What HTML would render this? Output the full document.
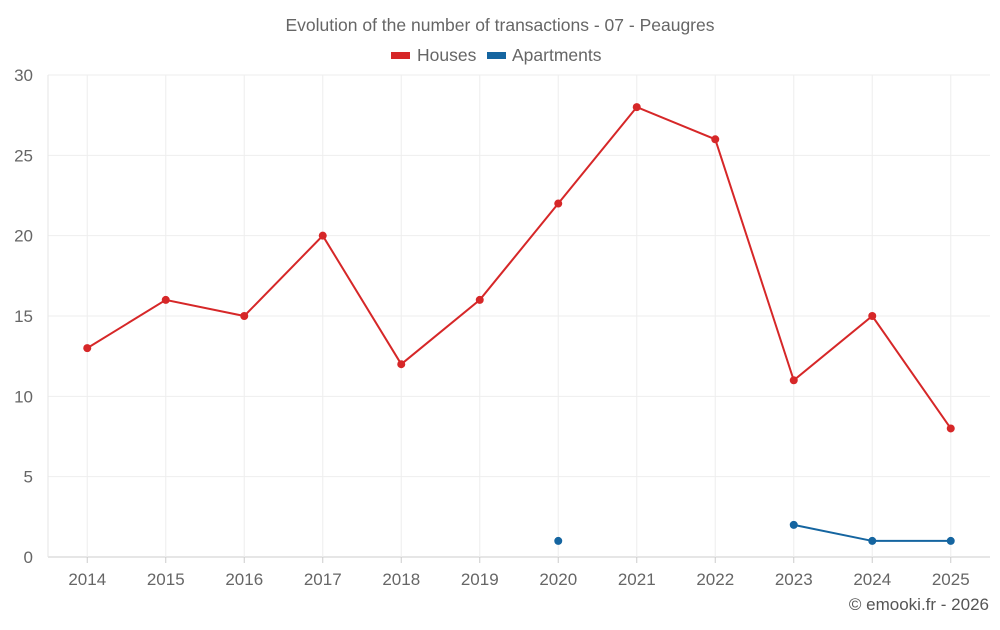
<!DOCTYPE html>
<html><head><meta charset="utf-8"><style>
body{margin:0;background:#fff;font-family:"Liberation Sans",sans-serif;}
svg text{font-family:"Liberation Sans",sans-serif;fill:#666;}
</style></head><body>
<svg id="chart" width="1000" height="625" xmlns="http://www.w3.org/2000/svg">
<text x="500" y="31" text-anchor="middle" font-size="17.5">Evolution of the number of transactions - 07 - Peaugres</text>
<g>
<g><rect x="391" y="52" width="19" height="7" fill="#d62728"/><text x="417" y="61" font-size="17.5">Houses</text></g>
<g><rect x="487" y="52" width="19" height="7" fill="#1565a0"/><text x="512" y="61" font-size="17.5">Apartments</text></g>
</g>
<g id="grid"></g><g id="axes"></g><g id="series"></g>
<text x="989" y="610" text-anchor="end" font-size="17" style="fill:#555">© emooki.fr - 2026</text>
</svg>
<script>
const years=["2014","2015","2016","2017","2018","2019","2020","2021","2022","2023","2024","2025"];
const houses=[13,16,15,20,12,16,22,28,26,11,15,8];
const apartments=[null,null,null,null,null,null,1,null,null,2,1,1];
const yTicks=[0,5,10,15,20,25,30];
const L=48,R=990,T=75,B=557,yMax=30;
const bw=(R-L)/years.length;
const x=i=>L+bw*(i+0.5);
const y=v=>B-(v/yMax)*(B-T);
const NS="http://www.w3.org/2000/svg";
function mk(tag,attrs,parent){const e=document.createElementNS(NS,tag);for(const k in attrs)e.setAttribute(k,attrs[k]);parent.appendChild(e);return e;}
const grid=document.getElementById('grid'),axes=document.getElementById('axes'),series=document.getElementById('series');
yTicks.forEach(t=>{
 const l=mk('line',{x1:L,x2:R,y1:y(t),y2:y(t),stroke:t===0?'#ccc':'#eee'},grid);
 
 
 const tx=mk('text',{x:33,y:y(t)+6,'text-anchor':'end','font-size':17},axes);tx.textContent=t;
 
 
});
years.forEach((yr,i)=>{
 const l=mk('line',{x1:x(i),x2:x(i),y1:T,y2:B,stroke:'#eee'},grid);
 
 
 const tk=mk('line',{x1:x(i),x2:x(i),y1:B,y2:B+6,stroke:'#ccc'},axes);
 
 
 const tx=mk('text',{x:x(i),y:585,'text-anchor':'middle','font-size':17},axes);tx.textContent=yr;
 
 
});
const la=mk('line',{x1:L,x2:L,y1:T,y2:B,stroke:'#e6e6e6'},axes);


function draw(data,color,name){
 let d='',pen=false;
 data.forEach((v,i)=>{if(v==null){pen=false;return;}d+=(pen?'L':'M')+x(i)+' '+y(v)+' ';pen=true;});
 const p=mk('path',{d:d,fill:'none',stroke:color,'stroke-width':2},series);
 
 
 data.forEach((v,i)=>{if(v==null)return;
  const c=mk('circle',{cx:x(i),cy:y(v),r:4,fill:color},series);
  
  
 });
}
draw(houses,'#d62728','houses');
draw(apartments,'#1565a0','apartments');
</script>
</body></html>
